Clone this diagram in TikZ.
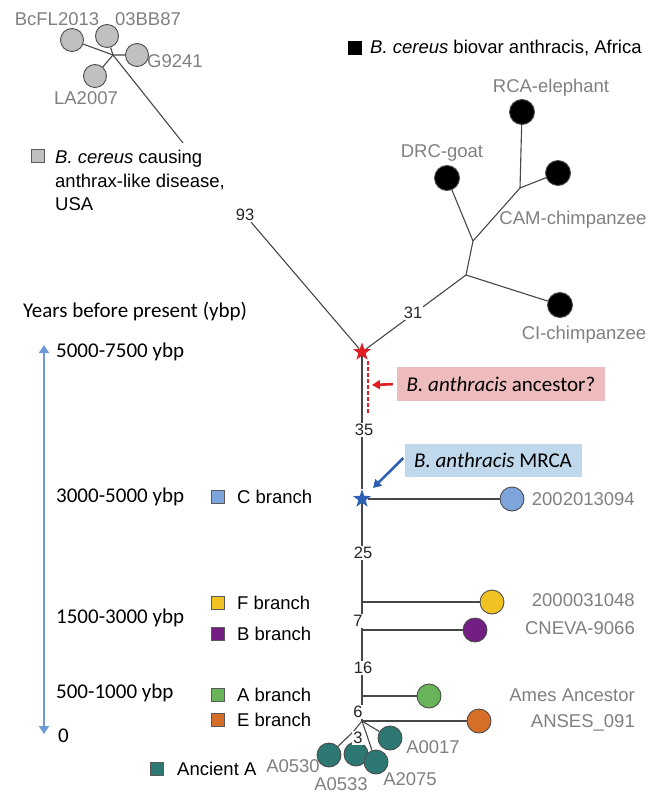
\documentclass[tikz,border=0pt]{standalone}
\usepackage{fontspec}
\setmainfont{Liberation Sans}
\newfontfamily\calfont{Carlito}
\usetikzlibrary{arrows.meta, shapes.geometric}

\definecolor{leafgray}{RGB}{192,192,192}
\definecolor{tipgray}{RGB}{128,128,128}
\definecolor{cblue}{RGB}{125,165,220}
\definecolor{fyellow}{RGB}{240,195,35}
\definecolor{bpurple}{RGB}{115,30,130}
\definecolor{agreen}{RGB}{105,180,90}
\definecolor{eorange}{RGB}{215,110,40}
\definecolor{ateal}{RGB}{45,120,115}
\definecolor{axisblue}{RGB}{110,155,215}
\definecolor{ancred}{RGB}{225,30,35}
\definecolor{ancpink}{RGB}{238,188,188}
\definecolor{mrcabg}{RGB}{192,216,236}
\definecolor{mrcastar}{RGB}{45,95,180}

\begin{document}
\begin{tikzpicture}[x=1pt, y=-1pt,
    leaf/.style={circle, draw=black!70, line width=0.9pt, minimum size=24pt, inner sep=0pt},
    tip/.style={text=tipgray, inner sep=0pt, font=\fontsize{18.5}{20}\selectfont},
    num/.style={fill=white, inner sep=1pt, text=black!85, font=\fontsize{16.5}{18}\selectfont},
    key/.style={draw=black!65, line width=0.6pt, minimum size=12.5pt, inner sep=0pt},
    keytext/.style={anchor=west, inner sep=0pt, font=\fontsize{18.5}{23.5}\selectfont},
    yrs/.style={anchor=west, inner sep=0pt, font=\calfont\fontsize{21}{24}\selectfont},
    edge/.style={draw=black!72, line width=1.1pt},
    nodestar/.style={star, star points=5, star point ratio=2.5, minimum size=19pt, inner sep=0pt}]
    \useasboundingbox (0,0) rectangle (649,794);

    % USA cluster
    \coordinate (j1) at (113,55);
    \coordinate (j1end) at (183,143);
    \node[leaf, fill=leafgray, minimum size=23pt] (bcfl) at (72,40) {};
    \node[leaf, fill=leafgray, minimum size=23pt] (bb87) at (107,36) {};
    \node[leaf, fill=leafgray, minimum size=23pt] (g9241) at (137,55) {};
    \node[leaf, fill=leafgray, minimum size=23pt] (la2007) at (95,76) {};
    \draw[edge] (bcfl) -- (j1) -- (j1end);
    \draw[edge] (bb87) -- (j1) -- (g9241);
    \draw[edge] (j1) -- (la2007);
    \node[tip] at (57,19) {BcFL2013};
    \node[tip] at (148,19) {03BB87};
    \node[tip] at (175,61) {G9241};
    \node[tip] at (86,98) {LA2007};
    \node[key, fill=leafgray] (kusa) at (38,156) {};
    \node[keytext, anchor=north west, align=left] at (55,150) {\textit{B. cereus} causing\\anthrax-like disease,\\USA};

    % Africa cluster
    \node[key, fill=black, draw=black] (kaf) at (355,48) {};
    \node[keytext] at (370,48) {\textit{B. cereus} biovar anthracis, Africa};
    \coordinate (af1) at (466,275);
    \coordinate (af2) at (473,241);
    \coordinate (af3) at (520,188);
    \node[leaf, fill=black, minimum size=25pt] (rca) at (522,112) {};
    \node[leaf, fill=black, minimum size=25pt] (drc) at (447,178) {};
    \node[leaf, fill=black, minimum size=25pt] (cam) at (558,173) {};
    \node[leaf, fill=black, minimum size=25pt] (ci) at (560,305) {};
    \draw[edge] (af1) -- (ci);
    \draw[edge] (af1) -- (af2) -- (drc);
    \draw[edge] (af2) -- (af3) -- (rca);
    \draw[edge] (af3) -- (cam);
    \node[tip] at (551,88) {RCA-elephant};
    \node[tip] at (442,153) {DRC-goat};
    \node[tip] at (573,220) {CAM-chimpanzee};
    \node[tip] at (584,335) {CI-chimpanzee};

    % Stars
    \node[nodestar, fill=ancred] (anc) at (362,352) {};
    \node[nodestar, fill=mrcastar] (mrca) at (362,499) {};
    \draw[edge] (anc) -- (af1);
    \node[num] (n93) at (245,215) {93};
    \draw[edge] (n93) -- (anc);
    \node[num] at (413,313) {31};

    % Trunk
    \coordinate (jf) at (362,602);
    \coordinate (jb) at (362,630);
    \coordinate (ja) at (362,696);
    \coordinate (je) at (362,721);
    \draw[edge] (anc) -- (mrca) -- (jf) -- (jb) -- (ja) -- (je);

    % Branch leaves
    \node[leaf, fill=cblue] (cleaf) at (512,499) {};
    \node[leaf, fill=fyellow] (fleaf) at (492,602) {};
    \node[leaf, fill=bpurple] (bleaf) at (475,630) {};
    \node[leaf, fill=agreen] (aleaf) at (429,696) {};
    \node[leaf, fill=eorange] (eleaf) at (479,721) {};
    \draw[edge] (mrca) -- (cleaf);
    \draw[edge] (jf) -- (fleaf);
    \draw[edge] (jb) -- (bleaf);
    \draw[edge] (ja) -- (aleaf);
    \draw[edge] (je) -- (eleaf);
    \node[tip, anchor=east] at (635,499) {2002013094};
    \node[tip, anchor=east] at (635,600) {2000031048};
    \node[tip, anchor=east] at (635,628) {CNEVA-9066};
    \node[tip, anchor=east] at (635,695) {Ames Ancestor};
    \node[tip, anchor=east] at (635,723) {ANSES\_091};

    % Ancient A
    \coordinate (jt) at (353,732);
    \node[leaf, fill=ateal] (a0530) at (329,755) {};
    \node[leaf, fill=ateal] (a0533) at (356,754) {};
    \node[leaf, fill=ateal] (a2075) at (376,762) {};
    \node[leaf, fill=ateal] (a0017) at (390,738) {};
    \draw[edge] (je) -- (jt) -- (a0530);
    \draw[edge] (jt) -- (a0533);
    \draw[edge] (je) -- (a2075);
    \draw[edge] (je) -- (a0017);
    \node[tip] at (293,766) {A0530};
    \node[tip] at (341,784) {A0533};
    \node[tip] at (410,779) {A2075};
    \node[tip] at (433,747) {A0017};

    % Trunk numbers
    \node[num] at (364,430) {35};
    \node[num] at (363,553) {25};
    \node[num] at (358,621) {7};
    \node[num] at (363,668) {16};
    \node[num] at (358,712) {6};
    \node[num] at (358,738) {3};

    % Ancestor note
    \coordinate (dtop) at (368,361);
    \coordinate (dbot) at (368,414);
    \draw[ancred, line width=1.3pt, dash pattern=on 4pt off 2pt] (dtop) -- (dbot);
    \node[fill=ancpink, minimum width=208pt, minimum height=34pt, font=\calfont\fontsize{21}{24}\selectfont] (ancbox) at (501,384) {\textit{B. anthracis} ancestor?};
    \coordinate (ancpt) at (372,385);
    \draw[ancred, line width=2.6pt, shorten <=4pt, -{Triangle[width=9pt,length=8pt]}] (ancbox.west) -- (ancpt);

    % MRCA note
    \node[fill=mrcabg, minimum width=177pt, minimum height=33pt, font=\calfont\fontsize{21}{24}\selectfont] (mrcabox) at (493,460) {\textit{B. anthracis} MRCA};
    \coordinate (mrcapt) at (373,488);
    \draw[mrcastar, line width=2.6pt, -{Triangle[width=9pt,length=8pt]}] ([xshift=-1pt,yshift=2pt]mrcabox.west) -- (mrcapt);

    % Time axis
    \node[yrs] at (23,312) {Years before present (ybp)};
    \coordinate (ttop) at (44,345);
    \coordinate (tbot) at (44,734);
    \draw[axisblue, line width=2pt, {Triangle[width=10pt,length=8pt]}-{Triangle[width=10pt,length=8pt]}] (ttop) -- (tbot);
    \node[yrs] at (56,352) {5000-7500 ybp};
    \node[yrs] at (56,497) {3000-5000 ybp};
    \node[yrs] at (56,618) {1500-3000 ybp};
    \node[yrs] at (56,693) {500-1000 ybp};
    \node[yrs] at (58,736) {0};

    % Legend
    \node[key, fill=cblue] (kc) at (218,497) {};
    \node[keytext] at (237,497) {C branch};
    \node[key, fill=fyellow] (kf) at (218,603) {};
    \node[keytext] at (237,603) {F branch};
    \node[key, fill=bpurple] (kb) at (218,634) {};
    \node[keytext] at (237,634) {B branch};
    \node[key, fill=agreen] (ka) at (218,695) {};
    \node[keytext] at (237,695) {A branch};
    \node[key, fill=eorange] (ke) at (218,720) {};
    \node[keytext] at (237,720) {E branch};
    \node[key, fill=ateal] (kt) at (157,769) {};
    \node[keytext] at (177,769) {Ancient A};
\end{tikzpicture}
\end{document}
